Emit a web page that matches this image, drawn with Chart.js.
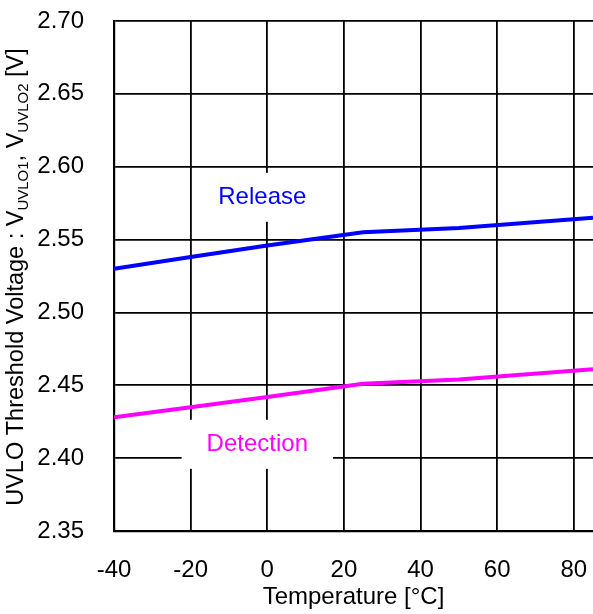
<!DOCTYPE html>
<html>
<head>
<meta charset="utf-8">
<script src="https://cdn.jsdelivr.net/npm/chart.js@4"></script>
<style>
  html, body { margin: 0; padding: 0; background: #ffffff; }
  #chart { display: block; }
</style>
</head>
<body>
<canvas id="chart" width="593" height="614"></canvas>
<script>
// Data
const temperatures = [-40, -20, 0, 25, 50, 85];
const releaseVolts = [2.530, 2.538, 2.546, 2.555, 2.558, 2.565];
const detectionVolts = [2.428, 2.435, 2.442, 2.451, 2.454, 2.461];
const xTicks = [-40, -20, 0, 20, 40, 60, 80];
const yTicks = [2.35, 2.40, 2.45, 2.50, 2.55, 2.60, 2.65, 2.70];

const FONT = "'Liberation Sans', Arial, sans-serif";

// Text labels sitting on white boxes inside the plot
const seriesLabels = [
  { text: "Release", x: -1.3, y: 2.579, color: "#0000ff" },
  { text: "Detection", x: -2.6, y: 2.4095, color: "#ff00ff" }
];

const labelPlugin = {
  id: "seriesLabels",
  beforeDatasetsDraw(chart) {
    const ctx = chart.ctx;
    const xs = chart.scales.x, ys = chart.scales.y;
    ctx.save();
    ctx.font = "24px " + FONT;
    ctx.textAlign = "center";
    ctx.textBaseline = "middle";
    seriesLabels.forEach(l => {
      const px = xs.getPixelForValue(l.x);
      const py = ys.getPixelForValue(l.y);
      const w = ctx.measureText(l.text).width + 50;
      ctx.fillStyle = "#ffffff";
      ctx.fillRect(px - w / 2, py - 24.5, w, 49);
      ctx.fillStyle = l.color;
      ctx.fillText(l.text, px, py);
    });
    ctx.restore();
  }
};

// Y axis title with subscripts
const yTitlePlugin = {
  id: "yTitle",
  afterDraw(chart) {
    const ctx = chart.ctx;
    const parts = [
      { t: "UVLO Threshold Voltage : V", sub: false },
      { t: "UVLO1", sub: true },
      { t: ", V", sub: false },
      { t: "UVLO2", sub: true },
      { t: " [V]", sub: false }
    ];
    const big = "23.5px " + FONT, small = "15px " + FONT;
    ctx.save();
    let total = 0;
    parts.forEach(p => {
      ctx.font = p.sub ? small : big;
      p.w = ctx.measureText(p.t).width;
      total += p.w;
    });
    ctx.translate(23, 277);
    ctx.rotate(-Math.PI / 2);
    ctx.fillStyle = "#000000";
    ctx.textBaseline = "alphabetic";
    ctx.textAlign = "left";
    let x = -total / 2;
    parts.forEach(p => {
      ctx.font = p.sub ? small : big;
      ctx.fillText(p.t, x, p.sub ? 5 : 0);
      x += p.w;
    });
    ctx.restore();
  }
};

new Chart(document.getElementById("chart"), {
  type: "line",
  data: {
    datasets: [
      {
        label: "Release",
        data: temperatures.map((t, i) => ({ x: t, y: releaseVolts[i] })),
        borderColor: "#0000ff",
        borderWidth: 4,
        pointRadius: 0,
        tension: 0
      },
      {
        label: "Detection",
        data: temperatures.map((t, i) => ({ x: t, y: detectionVolts[i] })),
        borderColor: "#ff00ff",
        borderWidth: 4,
        pointRadius: 0,
        tension: 0
      }
    ]
  },
  options: {
    responsive: false,
    animation: false,
    layout: { padding: { top: 21, right: 0, left: 0, bottom: 0 } },
    plugins: {
      legend: { display: false },
      tooltip: { enabled: false }
    },
    scales: {
      x: {
        type: "linear",
        min: -40,
        max: 85,
        afterBuildTicks(scale) { scale.ticks = xTicks.map(v => ({ value: v })); },
        afterFit(scale) { scale.height = 83; },
        grid: { color: "#000000", lineWidth: 1.8, drawTicks: true, tickLength: 23, tickColor: "rgba(0,0,0,0)" },
        border: { color: "#000000", width: 2.2 },
        ticks: { color: "#000000", padding: 2, font: { family: FONT, size: 24 } },
        title: {
          display: true,
          text: "Temperature [°C]",
          color: "#000000",
          padding: { top: 0, bottom: 2 },
          font: { family: FONT, size: 24 }
        }
      },
      y: {
        min: 2.35,
        max: 2.70,
        afterBuildTicks(scale) { scale.ticks = yTicks.map(v => ({ value: v })); },
        afterFit(scale) { scale.width = 114; },
        grid: { color: "#000000", lineWidth: 1.8, drawTicks: true, tickLength: 28, tickColor: "rgba(0,0,0,0)" },
        border: { color: "#000000", width: 2.2 },
        ticks: {
          color: "#000000",
          padding: 2,
          font: { family: FONT, size: 24 },
          callback: v => Number(v).toFixed(2)
        }
      }
    }
  },
  plugins: [labelPlugin, yTitlePlugin]
});
</script>
</body>
</html>
